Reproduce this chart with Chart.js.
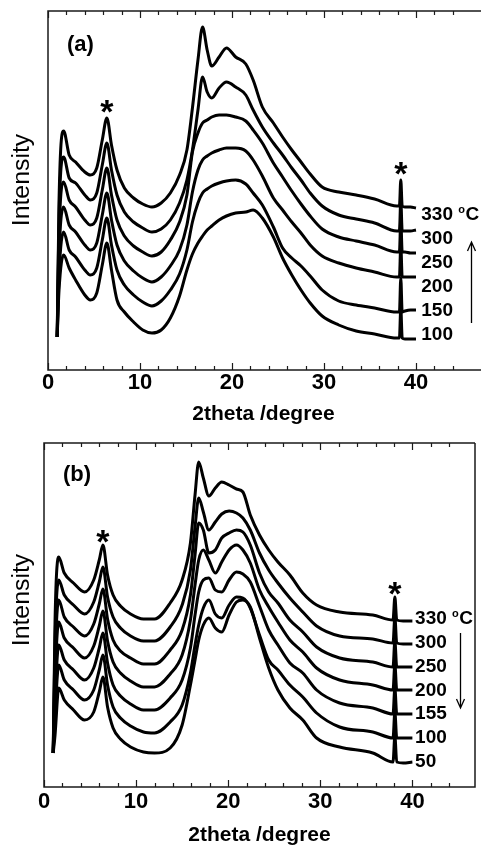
<!DOCTYPE html>
<html><head><meta charset="utf-8">
<script src="https://cdn.jsdelivr.net/npm/chart.js@4.4.1/dist/chart.umd.min.js"></script>
<style>
html,body{margin:0;padding:0;background:#fff;overflow:hidden;width:481px;height:845px;}
#wa{position:absolute;left:0;top:0;width:481px;height:440px;}
#wb{position:absolute;left:0;top:420px;width:481px;height:430px;}
</style></head><body>
<div id="wa"><canvas id="ca"></canvas></div>
<div id="wb"><canvas id="cb"></canvas></div>
<script>
// ---------- panel (a) ----------
const xA = [1.0,1.2,1.7,2.3,3.0,4.0,4.6,5.3,5.9,6.4, 6.9,7.5,8.3,9.3,10.3,11.3,12.3,13.3,14.3,15.1,
            15.7,16.3,16.8,17.3,17.8,18.6,19.4,20.4,21.5,22.3, 23.3,24.5,25.5,26.5,27.5,28.5,29.8,31.6,33.5,35.5,
            37.9,38.2,38.35,38.5,38.8,39.4,40.0];
const a330 = [33,170,239,215,208,198,195,202,230,252, 225,200,182,172,166,163,167,177,195,220,
              262,310,343,320,304,313,322,313,306,290, 263,247,233,220,208,196,183,178,175,171,
              164,164,190,164,163,163,162];
const a300 = [33,155,213,192,187,175,170,177,205,227, 200,175,158,148,142,138,141,150,167,190,
              220,260,293,278,272,282,288,283,275,260, 243,227,215,202,190,177,164,155,151,147,
              139,139,170,139,139,139,140];
const a250 = [33,135,188,170,163,150,145,152,180,202, 175,150,134,124,118,114,118,130,148,175,
              218,237,247,250,253,255,255,253,249,240, 227,207,193,179,166,154,141,133,129,125,
              118,118,150,118,118,117,117];
const a200 = [33,115,163,145,138,125,120,127,155,177, 150,125,109,99,92,88,93,104,120,145,
              178,200,210,214,217,220,222,222,219,210, 194,172,160,148,137,125,114,107,102,98,
              93,93,125,93,93,93,93];
const a150 = [33,95,138,120,113,100,95,102,130,152, 125,100,85,75,68,64,69,80,96,120,
              148,167,177,181,184,187,189,190,186,177, 165,143,122,112,104,94,80,69,65,62,
              58,58,92,58,59,60,60];
const a100 = [33,80,115,102,90,75,70,77,105,127, 100,70,58,48,40,37,40,52,74,100,
              116,127,134,140,144,150,154,157,158,160, 152,133,112,95,80,67,54,45,39,36,
              32,32,62,32,31,31,31];
const tempsA = ['330','300','250','200','150','100'];
const seriesA = [a330,a300,a250,a200,a150,a100];

// ---------- panel (b) ----------
const xB = [1.0,1.2,1.6,2.2,3.2,4.4,5.4,6.0,6.4,6.9, 7.5,8.3,9.4,10.8,12.0,13.7,15.0,15.9,16.4,16.8,
            17.3,17.9,18.6,19.3,20.1,20.9,21.6,22.4,23.4,24.4, 25.4,26.7,28.1,29.6,32.1,35.7,37.9,38.1,38.3,39.0,40.0];
const b330 = [34,167,230,214,204,195,207,227,242,212, 192,181,173,168,168,184,207,244,292,325,
              309,291,299,305,302,298,295,272,252,237, 225,212,194,182,175,172,167,190,167,166,166];
const b300 = [34,147,207,192,182,173,185,205,220,190, 170,159,151,146,146,160,182,217,260,289,
              275,257,265,273,276,274,269,257,234,217, 204,189,175,161,151,148,144,170,144,143,143];
const b250 = [34,127,187,170,160,151,163,183,198,168, 147,136,129,123,123,137,157,192,232,264,
              257,234,237,249,254,257,255,242,214,195, 184,167,155,140,129,125,120,146,120,120,120];
const b200 = [34,107,165,149,139,129,141,161,176,146, 125,114,106,100,100,113,132,167,202,227,
              237,227,214,225,237,242,237,224,197,180, 165,147,135,119,107,102,97,123,97,97,97];
const b155 = [34,87,142,127,117,107,119,139,154,124, 102,91,83,77,77,89,107,139,172,195,
              207,209,197,195,207,215,213,205,181,157, 142,124,114,97,84,79,73,99,73,73,73];
const b100 = [34,72,122,107,97,87,97,117,132,102, 80,69,61,55,54,65,82,114,142,162,
              179,187,173,169,182,190,189,179,152,127, 117,102,90,74,60,55,49,75,49,49,49];
const b50  = [34,52,99,87,77,67,75,95,110,80, 59,48,40,35,34,39,62,102,127,147,
              162,169,159,155,172,185,187,180,149,119, 97,79,67,49,40,34,25,51,25,24,25];
const tempsB = ['330','300','250','200','155','100','50'];
const seriesB = [b330,b300,b250,b200,b155,b100,b50];

const xTickValues = [0,10,20,30,40];
const starXA = [6.4, 38.35];
const starXB = [6.4, 38.1];

const FONT = "'Liberation Sans', Arial, sans-serif";

const framePlugin = {
  id: 'frame',
  afterDatasetsDraw(chart, args, opts) {
    const {ctx, chartArea: ca, scales: {x}} = chart;
    ctx.save();
    ctx.strokeStyle = '#1a1a1a'; ctx.lineWidth = 1.5;
    ctx.beginPath();
    ctx.moveTo(ca.right + (opts.right ? 0 : 2), ca.top);
    ctx.lineTo(ca.left, ca.top); ctx.lineTo(ca.left, ca.bottom); ctx.lineTo(ca.right + (opts.right ? 0 : 2), ca.bottom);
    if (opts.right) ctx.lineTo(ca.right, ca.top);
    ctx.stroke();
    ctx.lineWidth = 1.2;
    ctx.beginPath();
    x.ticks.forEach(t => {
      const v = t.value;
      if (Math.abs(v / 2 - Math.round(v / 2)) > 1e-6) return;
      const px = Math.round(x.getPixelForValue(v)) + 0.5;
      const len = (Math.round(v) % 10 === 0) ? 7 : 4;
      ctx.moveTo(px, ca.bottom); ctx.lineTo(px, ca.bottom - len);
      ctx.moveTo(px, ca.top); ctx.lineTo(px, ca.top + len);
    });
    ctx.stroke();
    ctx.restore();
  }
};

const annotPlugin = {
  id: 'annot',
  afterDraw(chart, args, o) {
    const {ctx, scales: {x, y}} = chart;
    const top = chart.data.datasets[0].data;
    ctx.save();
    ctx.fillStyle = '#000';
    // panel label
    ctx.font = 'bold 22px ' + FONT;
    ctx.textAlign = 'left'; ctx.textBaseline = 'middle';
    ctx.fillText(o.panel, o.panelX, o.panelY);
    // y title
    ctx.save();
    ctx.translate(o.yTitleX, o.yTitleY);
    ctx.rotate(-Math.PI / 2);
    ctx.scale(1.08, 1);
    ctx.font = '23px ' + FONT;
    ctx.textAlign = 'center'; ctx.textBaseline = 'middle';
    ctx.fillText('Intensity', 0, 0);
    ctx.restore();
    // stars
    ctx.font = 'bold 34px ' + FONT;
    ctx.textAlign = 'center'; ctx.textBaseline = 'alphabetic';
    o.stars.forEach(sx => {
      const p = top.find(d => Math.abs(d.x - sx) < 1e-6);
      const cx = x.getPixelForValue(p.x);
      const cy = y.getPixelForValue(p.y) - o.starGap;
      ctx.fillText('*', cx, cy + 20);
    });
    // series labels
    const lx = x.getPixelForValue(40) + o.labelDx;
    const ly0 = y.getPixelForValue(top[top.length - 1].y) + o.labelDy;
    ctx.textAlign = 'left'; ctx.textBaseline = 'middle';
    o.temps.forEach((t, i) => {
      const ly = ly0 + i * o.labelStep;
      ctx.font = 'bold 19px ' + FONT;
      ctx.fillText(t, lx, ly);
      if (i === 0) {
        const w = ctx.measureText(t + ' ').width;
        ctx.font = 'bold 11px ' + FONT;
        ctx.fillText('o', lx + w, ly - 5);
        const w2 = ctx.measureText('o').width;
        ctx.font = 'bold 19px ' + FONT;
        ctx.fillText('C', lx + w + w2 + 0.5, ly);
      }
    });
    // arrow
    const a = o.arrow;
    ctx.strokeStyle = '#000'; ctx.lineWidth = 1.3;
    ctx.beginPath();
    ctx.moveTo(a.x, a.from); ctx.lineTo(a.x, a.to);
    const d = a.to < a.from ? 1 : -1;
    ctx.moveTo(a.x - 4, a.to + d * 9); ctx.lineTo(a.x, a.to); ctx.lineTo(a.x + 4, a.to + d * 9);
    ctx.stroke();
    ctx.restore();
  }
};

function makeChart(id, xs, series, temps, cfg) {
  const datasets = series.map((arr, i) => ({
    label: temps[i],
    data: arr.map((v, j) => ({x: xs[j], y: v})),
    borderColor: '#000', borderWidth: 3, pointRadius: 0, fill: false,
    cubicInterpolationMode: 'monotone'
  }));
  return new Chart(document.getElementById(id), {
    type: 'line',
    data: {datasets},
    options: {
      responsive: true, maintainAspectRatio: false, animation: false, devicePixelRatio: 1,
      layout: {padding: cfg.padding},
      plugins: {
        legend: {display: false}, tooltip: {enabled: false},
        frame: {right: cfg.rightBorder},
        annot: cfg.annot
      },
      scales: {
        x: {
          type: 'linear', min: 0, max: cfg.xMax,
          afterFit: s => { s.height = cfg.axisH; },
          grid: {display: false, drawTicks: false},
          border: {display: false},
          ticks: {
            stepSize: 2, autoSkip: false, maxRotation: 0, padding: cfg.tickPad, color: '#000',
            font: {family: FONT, size: 22, weight: 'bold', lineHeight: 1},
            callback: v => xTickValues.includes(v) ? String(v) : ''
          },
          title: {display: true, text: '2theta /degree', color: '#000', padding: 0,
                  font: {family: FONT, size: 21, weight: 'bold', lineHeight: 1}}
        },
        y: {display: false, min: 0, max: cfg.yMax}
      }
    },
    plugins: [framePlugin, annotPlugin]
  });
}

makeChart('ca', xA, seriesA, tempsA, {
  padding: {left: 48, top: 11, right: 0, bottom: 15.5},
  axisH: 54.5, tickPad: 2, xMax: 46.85, yMax: 359, rightBorder: false,
  annot: {panel: '(a)', panelX: 67, panelY: 45, yTitleX: 23, yTitleY: 180,
          stars: starXA, starGap: 15, temps: tempsA, labelDx: 5.3, labelDy: 7, labelStep: 24,
          arrow: {x: 471.5, from: 323, to: 242}}
});
makeChart('cb', xB, seriesB, tempsB, {
  padding: {left: 44, top: 23, right: 6, bottom: 4.5},
  axisH: 58.5, tickPad: 3.5, xMax: 46.8, yMax: 344, rightBorder: true,
  annot: {panel: '(b)', panelX: 63, panelY: 55, yTitleX: 23, yTitleY: 180,
          stars: starXB, starGap: 12, temps: tempsB, labelDx: 2.7, labelDy: -2, labelStep: 23.8,
          arrow: {x: 460.5, from: 213, to: 288}}
});
</script>
</body></html>
